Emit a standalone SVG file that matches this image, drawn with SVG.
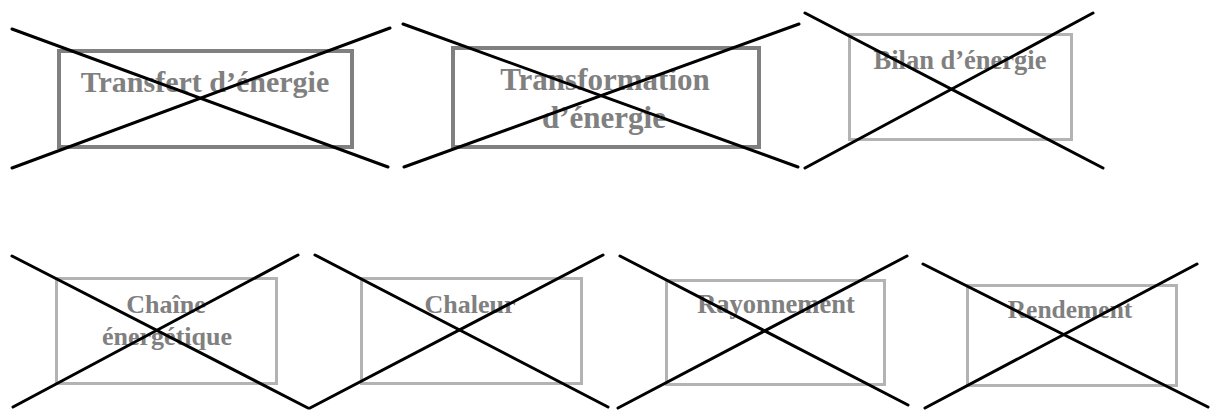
<svg xmlns="http://www.w3.org/2000/svg" width="1210" height="410" viewBox="0 0 1210 410">
<style>
.dark{fill:#fff;stroke:#808080;stroke-width:4}
.light{fill:#fff;stroke:#b3b3b3;stroke-width:3}
.lbl{font-family:"Liberation Serif","Times New Roman",serif;font-weight:bold;fill:#808080;text-anchor:middle}
.x{stroke:#000;stroke-width:3;stroke-linecap:round;fill:none}
</style>
<rect width="1210" height="410" fill="#fff"/>
<g id="transfert">
<rect class="dark" x="59" y="51" width="293" height="96"/>
<text class="lbl" x="205" y="92" font-size="30">Transfert d’énergie</text>
<line class="x" x1="12" y1="29" x2="388" y2="167"/>
<line class="x" x1="12" y1="168" x2="390" y2="28"/>
</g>
<g id="transformation">
<rect class="dark" x="453" y="48" width="306" height="99"/>
<text class="lbl" x="605" y="90" font-size="31">Transformation</text>
<text class="lbl" x="604" y="128" font-size="31">d’énergie</text>
<line class="x" x1="403" y1="24" x2="798" y2="167"/>
<line class="x" x1="404" y1="167" x2="799" y2="24"/>
</g>
<g id="bilan">
<rect class="light" x="849.5" y="34.5" width="222" height="105"/>
<text class="lbl" x="960" y="69" font-size="26.5">Bilan d’énergie</text>
<line class="x" x1="805" y1="13" x2="1103" y2="168"/>
<line class="x" x1="805" y1="168" x2="1093" y2="13"/>
</g>
<g id="chaine">
<rect class="light" x="56.5" y="278.5" width="220" height="105"/>
<text class="lbl" x="166" y="313" font-size="26">Chaîne</text>
<text class="lbl" x="167" y="345" font-size="26">énergétique</text>
<line class="x" x1="12" y1="256" x2="308" y2="408"/>
<line class="x" x1="13" y1="407" x2="298" y2="255"/>
</g>
<g id="chaleur">
<rect class="light" x="361.5" y="278.5" width="220" height="105"/>
<text class="lbl" x="470" y="313" font-size="26">Chaleur</text>
<line class="x" x1="315" y1="255" x2="608" y2="407"/>
<line class="x" x1="310" y1="408" x2="603" y2="255"/>
</g>
<g id="rayonnement">
<rect class="light" x="666.5" y="280.5" width="218" height="104"/>
<text class="lbl" x="776" y="313" font-size="26.5">Rayonnement</text>
<line class="x" x1="620" y1="256" x2="908" y2="405"/>
<line class="x" x1="618" y1="408" x2="907" y2="256"/>
</g>
<g id="rendement">
<rect class="light" x="967.5" y="285.5" width="209" height="100"/>
<text class="lbl" x="1070" y="318" font-size="25.5">Rendement</text>
<line class="x" x1="923" y1="264" x2="1208" y2="407"/>
<line class="x" x1="925" y1="408" x2="1197" y2="264"/>
</g>
<g id="connectors"/>
</svg>
